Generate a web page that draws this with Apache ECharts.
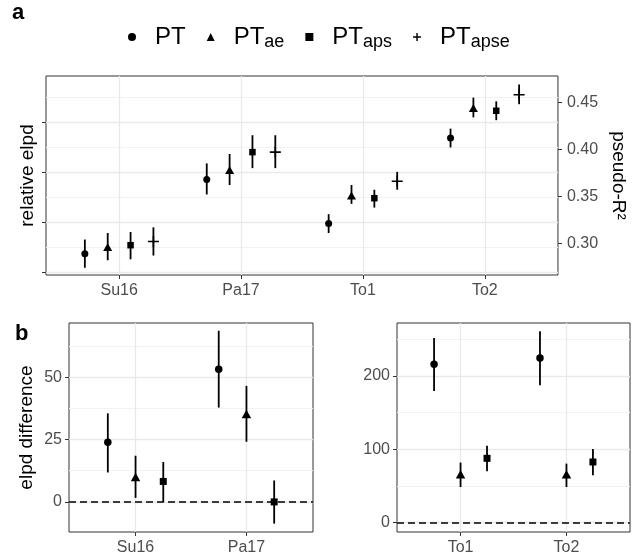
<!DOCTYPE html>
<html>
<head>
<meta charset="utf-8">
<script src="https://cdn.jsdelivr.net/npm/echarts@6/dist/echarts.min.js"></script>
<style>
html, body { margin: 0; padding: 0; background: #fff; }
#chart { width: 636px; height: 558px; }
</style>
</head>
<body>
<div id="chart"></div>
<script>
// panel a: pseudo-R2, one [lower, estimate, upper] per region
var regionsA = ['Su16', 'Pa17', 'To1', 'To2'];
var modelsA = ['PT', 'PTae', 'PTaps', 'PTapse'];
var r2_PT     = [[0.274, 0.289, 0.304], [0.352, 0.368, 0.385], [0.311, 0.321, 0.331], [0.402, 0.412, 0.422]];
var r2_PTae   = [[0.282, 0.296, 0.311], [0.362, 0.378, 0.395], [0.342, 0.351, 0.362], [0.434, 0.444, 0.455]];
var r2_PTaps  = [[0.283, 0.298, 0.312], [0.380, 0.397, 0.415], [0.338, 0.348, 0.357], [0.431, 0.441, 0.451]];
var r2_PTapse = [[0.287, 0.302, 0.317], [0.380, 0.397, 0.415], [0.357, 0.366, 0.376], [0.448, 0.458, 0.469]];
var r2Ticks = [0.30, 0.35, 0.40, 0.45];

// panel b: elpd difference, [lower, estimate, upper]
var regionsB1 = ['Su16', 'Pa17'];
var regionsB2 = ['To1', 'To2'];
var modelsB = ['PT', 'PTae', 'PTaps'];
var diff1_PT    = [[11.8, 23.9, 35.5], [37.8, 53.2, 68.6]];
var diff1_PTae  = [[1.6, 10.0, 18.5], [24.1, 35.2, 46.5]];
var diff1_PTaps = [[0, 8.2, 16.0], [-8.7, 0, 8.6]];
var diff2_PT    = [[179.5, 216, 251.8], [187.3, 224.6, 261]];
var diff2_PTae  = [[48.6, 65.9, 81.9], [48.6, 65.9, 80.5]];
var diff2_PTaps = [[70, 87.7, 105], [64.5, 82.7, 100.4]];
var diff1Ticks = [0, 25, 50];
var diff1Minor = [12.5, 37.5, 62.5];
var diff2Ticks = [0, 100, 200];
var diff2Minor = [50, 150, 250];

var FONT = "'Liberation Sans', Arial, sans-serif";
var plus = 'path://M0,4.3H10V5.7H0Z M4.3,0H5.7V10H4.3Z';
var plusIcon = 'path://M0,4.1H10V5.9H0Z M4.1,0H5.9V10H4.1Z';
var symbols = ['circle', 'triangle', 'rect', plus];
var legendIcons = ['circle', 'triangle', 'rect', plusIcon];
var sizesA = [7, [9, 8], 6.5, 11];
var sizesB = [7.5, [9.5, 8.5], 7];
var dodgeA = [-0.28125, -0.09375, 0.09375, 0.28125];
var dodgeB = [-0.25, 0, 0.25];

var chart = echarts.init(document.getElementById('chart'));

function errBar(params, api) {
    var a = api.coord([api.value(0), api.value(1)]);
    var b = api.coord([api.value(0), api.value(2)]);
    return {
        type: 'line',
        shape: { x1: a[0], y1: a[1], x2: b[0], y2: b[1] },
        style: { stroke: '#000', lineWidth: 1.8 }
    };
}

var series = [];
function addModel(name, rows, dodge, sym, size, xi, yi) {
    var bars = rows.map(function (r, i) { return [i + 1 + dodge, r[0], r[2]]; });
    var pts = rows.map(function (r, i) { return [i + 1 + dodge, r[1]]; });
    series.push({
        type: 'custom', xAxisIndex: xi, yAxisIndex: yi,
        renderItem: errBar, data: bars, encode: { x: 0, y: [1, 2] },
        silent: true, z: 3
    });
    series.push({
        name: name, type: 'scatter', xAxisIndex: xi, yAxisIndex: yi,
        symbol: sym, symbolSize: size, data: pts,
        itemStyle: { color: '#000', opacity: 1 }, silent: true, z: 4
    });
}
[r2_PT, r2_PTae, r2_PTaps, r2_PTapse].forEach(function (rows, m) {
    addModel(modelsA[m], rows, dodgeA[m], symbols[m], sizesA[m], 0, 2);
});
[diff1_PT, diff1_PTae, diff1_PTaps].forEach(function (rows, m) {
    addModel(modelsB[m], rows, dodgeB[m], symbols[m], sizesB[m], 1, 3);
});
[diff2_PT, diff2_PTae, diff2_PTaps].forEach(function (rows, m) {
    addModel(modelsB[m], rows, dodgeB[m], symbols[m], sizesB[m], 2, 5);
});
// dashed zero lines
[[1, 3], [2, 5]].forEach(function (ax) {
    series.push({
        type: 'line', xAxisIndex: ax[0], yAxisIndex: ax[1], data: [], silent: true,
        markLine: {
            silent: true, symbol: 'none', animation: false,
            label: { show: false },
            lineStyle: { color: '#000', type: [7, 4], width: 1.5 },
            data: [{ yAxis: 0 }]
        }
    });
});

var majorLine = { show: true, lineStyle: { color: '#e9e9e9', width: 1.3 } };
var minorLine = { show: true, lineStyle: { color: '#f2f2f2', width: 1 } };
var tickLab = { color: '#4d4d4d', fontSize: 16, fontFamily: FONT };
var tick = { show: true, length: 4, lineStyle: { color: '#333', width: 1 } };

function xAx(grid, cats) {
    var vals = cats.map(function (c, i) { return i + 1; });
    return {
        type: 'value', gridIndex: grid, min: 0.4, max: cats.length + 0.6,
        axisLine: { show: false, onZero: false },
        axisTick: Object.assign({ customValues: vals }, tick),
        axisLabel: Object.assign({ customValues: vals, margin: 8,
            formatter: function (v) { return cats[Math.round(v) - 1]; } }, tickLab),
        splitLine: majorLine
    };
}
function minorAx(grid, min, max, vals) {
    return {
        type: 'value', gridIndex: grid, min: min, max: max, position: 'left',
        axisLine: { show: false, onZero: false },
        axisTick: { show: false, customValues: vals },
        axisLabel: { show: false },
        splitLine: minorLine
    };
}

var option = {
    animation: false,
    backgroundColor: '#fff',
    textStyle: { fontFamily: FONT },
    title: [
        { text: 'a', left: 12, top: 2, padding: 0,
          textStyle: { fontSize: 22, fontWeight: 'bold', color: '#000', fontFamily: FONT } },
        { text: 'b', left: 15, top: 323, padding: 0,
          textStyle: { fontSize: 22, fontWeight: 'bold', color: '#000', fontFamily: FONT } }
    ],
    legend: {
        left: 128, top: 25, padding: 0,
        itemWidth: 8, itemHeight: 8, itemGap: 21,
        selectedMode: false,
        data: modelsA.map(function (n, i) { return { name: n, icon: legendIcons[i] }; }),
        formatter: function (n) {
            return n === 'PT' ? '{m|PT}' : '{m|PT}{s|' + n.slice(2) + '}';
        },
        textStyle: {
            rich: {
                m: { fontSize: 24, lineHeight: 28, padding: [0, 0, 0, 14], color: '#000', fontFamily: FONT },
                s: { fontSize: 18, lineHeight: 13, verticalAlign: 'bottom', color: '#000', fontFamily: FONT }
            }
        }
    },
    grid: [
        { left: 46, top: 76, width: 519, height: 199, show: true, borderColor: '#333', borderWidth: 1 },
        { left: 69, top: 323, width: 244, height: 209, show: true, borderColor: '#333', borderWidth: 1 },
        { left: 397, top: 323, width: 233, height: 209, show: true, borderColor: '#333', borderWidth: 1 }
    ],
    xAxis: [xAx(0, regionsA), xAx(1, regionsB1), xAx(2, regionsB2)],
    yAxis: [
        { // 0: relative elpd (unlabelled)
            type: 'value', gridIndex: 0, min: -0.054, max: 3.926, position: 'left',
            name: 'relative elpd', nameLocation: 'middle', nameRotate: 90, nameGap: 9,
            nameTextStyle: { fontSize: 19, color: '#000', fontFamily: FONT },
            axisLine: { show: false, onZero: false },
            axisTick: Object.assign({ customValues: [0, 1, 2, 3] }, tick),
            axisLabel: { show: false },
            splitLine: majorLine
        },
        minorAx(0, -0.054, 3.926, [0.5, 1.5, 2.5, 3.5]),
        { // 2: pseudo-R2
            type: 'value', gridIndex: 0, min: 0.2663, max: 0.478, position: 'right',
            name: 'pseudo-R\u00b2', nameLocation: 'middle', nameRotate: -90, nameGap: 42,
            nameTextStyle: { fontSize: 19, color: '#000', fontFamily: FONT },
            axisLine: { show: false, onZero: false },
            axisTick: Object.assign({ customValues: r2Ticks }, tick),
            axisLabel: Object.assign({ customValues: r2Ticks, margin: 9,
                formatter: function (v) { return v.toFixed(2); } }, tickLab),
            splitLine: { show: false }
        },
        { // 3: elpd difference, left panel
            type: 'value', gridIndex: 1, min: -12.06, max: 71.7, position: 'left',
            name: 'elpd difference', nameLocation: 'middle', nameRotate: 90, nameGap: 33,
            nameTextStyle: { fontSize: 19, color: '#000', fontFamily: FONT },
            axisLine: { show: false, onZero: false },
            axisTick: Object.assign({ customValues: diff1Ticks }, tick),
            axisLabel: Object.assign({ customValues: diff1Ticks, margin: 7 }, tickLab),
            splitLine: majorLine
        },
        minorAx(1, -12.06, 71.7, diff1Minor),
        { // 5: elpd difference, right panel
            type: 'value', gridIndex: 2, min: -12.8, max: 272.3, position: 'left',
            axisLine: { show: false, onZero: false },
            axisTick: Object.assign({ customValues: diff2Ticks }, tick),
            axisLabel: Object.assign({ customValues: diff2Ticks, margin: 7 }, tickLab),
            splitLine: majorLine
        },
        minorAx(2, -12.8, 272.3, diff2Minor)
    ],
    series: series
};
chart.setOption(option);
</script>
</body>
</html>
